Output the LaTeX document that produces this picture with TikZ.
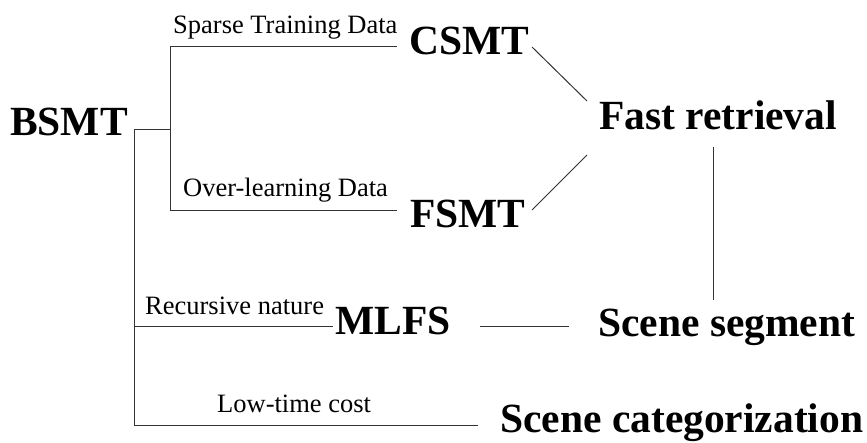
\documentclass[tikz,border=0pt]{standalone}
\usepackage{fontspec}
\setmainfont{Liberation Serif}
\begin{document}
\begin{tikzpicture}[x=1pt,y=-1pt,
  bigtext/.style={inner sep=0pt,anchor=base west,font=\fontsize{41.5}{50}\selectfont\bfseries},
  smalltext/.style={inner sep=0pt,anchor=base west,font=\fontsize{26.5}{32}\selectfont},
  link/.style={line width=1pt,draw=black!80}]
\useasboundingbox (0,0) rectangle (867,442);
% main nodes
\node[bigtext] (bsmt) at (10,135) {BSMT};
\node[bigtext] (csmt) at (409,54) {CSMT};
\node[bigtext] (fsmt) at (410,227) {FSMT};
\node[bigtext] (fast) at (599,129) {Fast retrieval};
\node[bigtext] (mlfs) at (335,334) {MLFS};
\node[bigtext] (seg) at (598,336) {Scene segment};
\node[bigtext] (cat) at (500,432) {Scene categorization};
% edge labels
\node[smalltext] (l1) at (173,33) {Sparse Training Data};
\node[smalltext] (l2) at (183,196) {Over-learning Data};
\node[smalltext] (l3) at (145,314) {Recursive nature};
\node[smalltext] (l4) at (217,412) {Low-time cost};
% connector end points
\coordinate (bOut) at (134,129);
\coordinate (bFork) at (170,129);
\coordinate (cIn) at (397,46);
\coordinate (fIn) at (397,210);
\coordinate (mIn) at (333,326);
\coordinate (kIn) at (478,425);
\coordinate (cOut) at (532,47);
\coordinate (fOut) at (532,210);
\coordinate (rInTop) at (587,101);
\coordinate (rInBot) at (587,155);
\coordinate (rDown) at (713,147);
\coordinate (sUp) at (713,300);
\coordinate (mOut) at (480,326);
\coordinate (sIn) at (569,326);
% tree from BSMT
\draw[link] (bOut) -- (bFork);
\draw[link] (bFork) |- (cIn);
\draw[link] (bFork) |- (fIn);
\draw[link] (bOut) |- (mIn);
\draw[link] (bOut) |- (kIn);
% other connectors
\draw[link] (cOut) -- (rInTop);
\draw[link] (fOut) -- (rInBot);
\draw[link] (rDown) -- (sUp);
\draw[link] (mOut) -- (sIn);
\end{tikzpicture}
\end{document}
